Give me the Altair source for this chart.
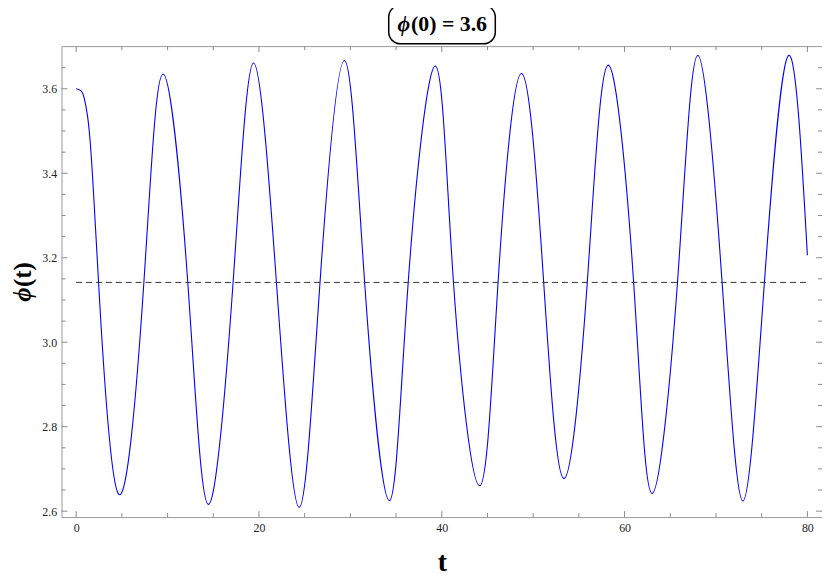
import altair as alt
import pandas as pd

# Key points (t, phi)
t_vals = [0, 0.54, 0.90, 1.26, 1.52, 1.80, 2.17, 2.45, 4.62, 7.41, 9.50, 12.21,
          14.46, 17.17, 19.41, 21.91, 24.40, 26.68, 29.35, 31.56, 34.27, 36.33,
          39.30, 41.28, 44.14, 46.16, 48.73, 51.15, 53.36, 55.92, 58.20, 60.99,
          63.00, 65.79, 68.00, 70.67, 72.95, 75.30, 77.94, 80.0]
phi_vals = [3.600, 3.595, 3.576, 3.533, 3.478, 3.390, 3.250, 3.142, 2.641, 3.142,
            3.635, 3.142, 2.616, 3.142, 3.661, 3.142, 2.609, 3.142, 3.667, 3.142,
            2.625, 3.142, 3.654, 3.142, 2.660, 3.142, 3.636, 3.142, 2.677, 3.142,
            3.656, 3.142, 2.642, 3.142, 3.679, 3.142, 2.624, 3.142, 3.679, 3.206]

pi_level = 3.14159
x_major = [0, 20, 40, 60, 80]
x_minor = [5, 10, 15, 25, 30, 35, 45, 50, 55, 65, 70, 75]
y_major = [2.6, 2.8, 3.0, 3.2, 3.4, 3.6]
y_minor = [2.65, 2.7, 2.75, 2.85, 2.9, 2.95, 3.05, 3.1, 3.15, 3.25, 3.3, 3.35,
           3.45, 3.5, 3.55, 3.65]
title_sym = "ϕ"
title_rest = "(0) = 3.6"
ytitle_sym = "ϕ"
ytitle_rest = "(t)"
xtitle = "t"

W, H = 767, 475
FONT = "Liberation Serif"
TICK = "#8a8a8a"

xs = alt.Scale(domain=[-1.6, 81.6], nice=False, zero=False)
ys = alt.Scale(domain=[2.586, 3.701], nice=False, zero=False)

df = pd.DataFrame({"t": t_vals, "phi": phi_vals})

line = alt.Chart(df).mark_line(color="#0000ff", strokeWidth=1.1, interpolate="natural").encode(
    x=alt.X("t:Q", scale=xs,
            axis=alt.Axis(values=x_major, ticks=False, domain=False, grid=False,
                          labelFont=FONT, labelFontSize=12, labelColor="#222",
                          labelPadding=6, title=xtitle, titleFont=FONT,
                          titleFontSize=28, titleFontWeight="bold",
                          titleColor="black", titlePadding=15)),
    y=alt.Y("phi:Q", scale=ys,
            axis=alt.Axis(values=y_major, format=".1f", ticks=False, domain=False,
                          grid=False, labelFont=FONT, labelFontSize=12,
                          labelColor="#222", labelPadding=5, title="")),
)

dash = alt.Chart(pd.DataFrame({"a": [0]})).mark_rule(
    color="#333", strokeDash=[6, 4], strokeWidth=1
).encode(x=alt.datum(0, scale=xs), x2=alt.datum(80), y=alt.datum(pi_level, scale=ys))

xmaj = pd.DataFrame({"v": x_major})
xmin = pd.DataFrame({"v": x_minor})
ymaj = pd.DataFrame({"v": y_major})
ymin = pd.DataFrame({"v": y_minor})

def xticks(d, ln):
    b = alt.Chart(d).mark_rule(color=TICK, strokeWidth=1).encode(
        x=alt.X("v:Q", scale=xs), y=alt.value(H), y2=alt.value(H - ln))
    t = alt.Chart(d).mark_rule(color=TICK, strokeWidth=1).encode(
        x=alt.X("v:Q", scale=xs), y=alt.value(0), y2=alt.value(ln))
    return [b, t]

def yticks(d, ln):
    l = alt.Chart(d).mark_rule(color=TICK, strokeWidth=1).encode(
        y=alt.Y("v:Q", scale=ys), x=alt.value(0), x2=alt.value(ln))
    r = alt.Chart(d).mark_rule(color=TICK, strokeWidth=1).encode(
        y=alt.Y("v:Q", scale=ys), x=alt.value(W), x2=alt.value(W - ln))
    return [l, r]

one = pd.DataFrame({"a": [0]})
box = alt.Chart(one).mark_rect(
    fill="white", stroke="black", strokeWidth=1.5, cornerRadius=12
).encode(x=alt.value(330), x2=alt.value(437.5), y=alt.value(-41.3), y2=alt.value(-2.3))
ttl1 = alt.Chart(one).mark_text(
    text=title_sym, font=FONT, fontSize=22, fontWeight="bold", fontStyle="italic",
    color="black", align="right", baseline="alphabetic"
).encode(x=alt.value(351.5), y=alt.value(-15.5))
ttl2 = alt.Chart(one).mark_text(
    text=title_rest, font=FONT, fontSize=22, fontWeight="bold",
    color="black", align="left", baseline="alphabetic"
).encode(x=alt.value(352.5), y=alt.value(-15.5))

yt1 = alt.Chart(one).mark_text(
    text=ytitle_sym, font=FONT, fontSize=25, fontWeight="bold", fontStyle="italic",
    color="black", align="center", baseline="middle", angle=270
).encode(x=alt.value(-38.5), y=alt.value(250.5))
yt2 = alt.Chart(one).mark_text(
    text=ytitle_rest, font=FONT, fontSize=25, fontWeight="bold",
    color="black", align="center", baseline="middle", angle=270
).encode(x=alt.value(-38.5), y=alt.value(230.5))

layers = ([line, dash] + xticks(xmaj, 6) + xticks(xmin, 4) + yticks(ymaj, 6)
          + yticks(ymin, 4) + [box, ttl1, ttl2, yt1, yt2])

chart = alt.layer(*layers).properties(
    width=W, height=H,
    autosize=alt.AutoSizeParams(type="none"),
    padding={"left": 54, "top": 36, "right": 0, "bottom": 60},
).configure_view(stroke="#999", strokeWidth=1)

chart.save("out.html", embed_options={"renderer": "svg", "actions": False})
